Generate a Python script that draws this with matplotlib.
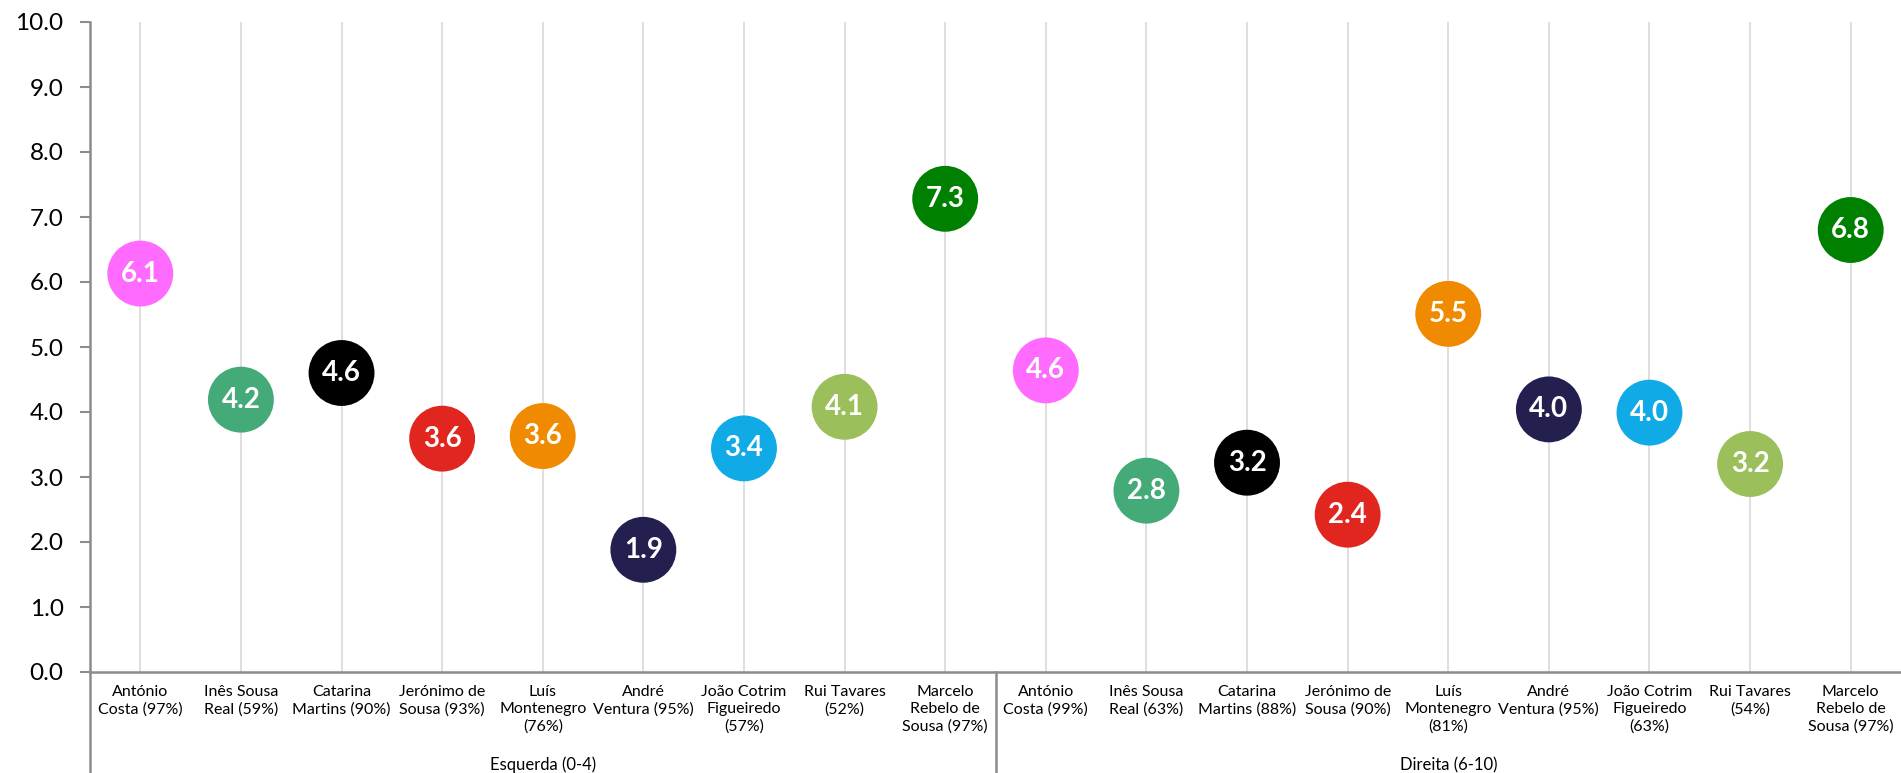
import numpy as np
import matplotlib
matplotlib.use("Agg")
import matplotlib.pyplot as plt
from matplotlib.lines import Line2D
import matplotlib.transforms as mtransforms

plt.rcParams['font.family'] = ['Lato', 'DejaVu Sans']

GROUPS = ['Esquerda (0-4)', 'Direita (6-10)']
LEFT_LABELS = ['António\nCosta (97%)', 'Inês Sousa\nReal (59%)', 'Catarina\nMartins (90%)',
               'Jerónimo de\nSousa (93%)', 'Luís\nMontenegro\n(76%)', 'André\nVentura (95%)',
               'João Cotrim\nFigueiredo\n(57%)', 'Rui Tavares\n(52%)', 'Marcelo\nRebelo de\nSousa (97%)']
RIGHT_LABELS = ['António\nCosta (99%)', 'Inês Sousa\nReal (63%)', 'Catarina\nMartins (88%)',
                'Jerónimo de\nSousa (90%)', 'Luís\nMontenegro\n(81%)', 'André\nVentura (95%)',
                'João Cotrim\nFigueiredo\n(63%)', 'Rui Tavares\n(54%)', 'Marcelo\nRebelo de\nSousa (97%)']
LEFT_VALUES = [6.13, 4.19, 4.60, 3.59, 3.63, 1.88, 3.44, 4.08, 7.28]
RIGHT_VALUES = [4.64, 2.79, 3.22, 2.42, 5.51, 4.04, 3.99, 3.20, 6.80]
PERSON_COLORS = ['#FF6BFF', '#43AA78', '#000000', '#E0261F', '#F08A00',
                 '#231F4F', '#10AAE6', '#9BBF5B', '#008000']

labels = LEFT_LABELS + RIGHT_LABELS
values = LEFT_VALUES + RIGHT_VALUES
colors = PERSON_COLORS * 2
x = np.arange(len(values))

fig = plt.figure(figsize=(19.01, 7.73), dpi=100)
ax = fig.add_axes([90 / 1901, 101 / 773, 1 - 90 / 1901, 650 / 773])

ax.scatter(x, values, s=2250, c=colors, edgecolors='none', zorder=3, clip_on=False)
for xi, v in zip(x, values):
    ax.text(xi, v, f'{v:.1f}', ha='center', va='center', color='white',
            fontsize=20, fontweight='bold', zorder=4)

ax.set_xlim(-0.5, len(values) - 0.5)
ax.set_ylim(0, 10)
ax.set_yticks(np.arange(0, 10.5, 1.0))
ax.set_yticklabels([f'{t:.1f}' for t in np.arange(0, 10.5, 1.0)], fontsize=17.5)
ax.set_xticks(x)
ax.set_xticklabels(labels, fontsize=11.5, linespacing=1.32, va='top')
ax.tick_params(axis='x', length=0, pad=9)
ax.tick_params(axis='y', length=7, width=1.5, color='#8C8C8C', pad=12)
ax.grid(axis='x', color='#D9D9D9', lw=1.2, zorder=0)
ax.set_axisbelow(True)

for s in ['top', 'right']:
    ax.spines[s].set_visible(False)
for s in ['left', 'bottom']:
    ax.spines[s].set_color('#8C8C8C')
    ax.spines[s].set_linewidth(1.8)

# multi-level category axis: separators and group labels
trans = mtransforms.blended_transform_factory(ax.transData, ax.transAxes)
drop = -101 / 650
for xs in [-0.5, 8.5]:
    ax.add_line(Line2D([xs, xs], [0, drop], transform=trans, color='#8C8C8C',
                       lw=1.8, clip_on=False))
for i, g in enumerate(GROUPS):
    ax.text(i * 9 + 4, -0.143, g, transform=trans, ha='center', va='center', fontsize=12)

fig.savefig('out.png', dpi=100)
